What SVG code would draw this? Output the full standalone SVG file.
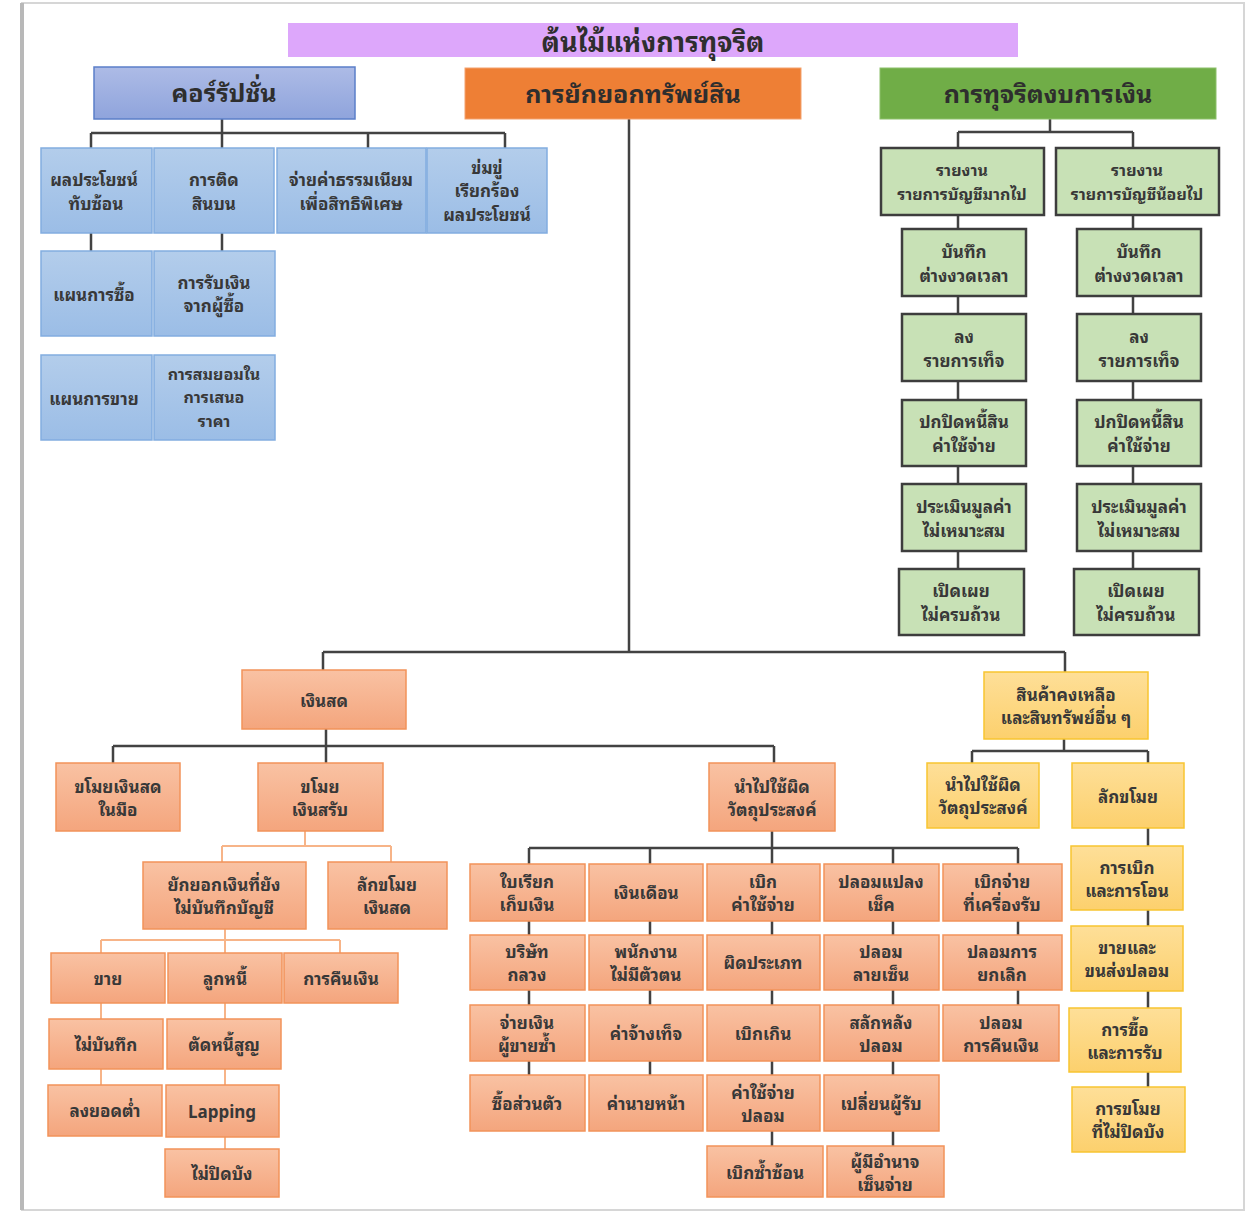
<svg xmlns="http://www.w3.org/2000/svg" width="1248" height="1213" viewBox="0 0 1248 1213">
<defs>
<linearGradient id="gBlue1" x1="0" y1="0" x2="0" y2="1"><stop offset="0" stop-color="#adbbe6"/><stop offset="1" stop-color="#8fa4dc"/></linearGradient>
<linearGradient id="gBlue2" x1="0" y1="0" x2="0" y2="1"><stop offset="0" stop-color="#b3cdeb"/><stop offset="1" stop-color="#9bbde6"/></linearGradient>
<linearGradient id="gSalmon" x1="0" y1="0" x2="0" y2="1"><stop offset="0" stop-color="#f9c2a3"/><stop offset="1" stop-color="#f4a57d"/></linearGradient>
<linearGradient id="gYellow" x1="0" y1="0" x2="0" y2="1"><stop offset="0" stop-color="#fedf98"/><stop offset="1" stop-color="#fcd06d"/></linearGradient>
</defs>
<style>
text{font-family:"Noto Sans Thai Looped","Noto Sans Thai","Noto Sans","DejaVu Sans",sans-serif;font-weight:bold;fill:#383838;text-anchor:middle;dominant-baseline:central;font-size:17px}
.t1{font-size:25px;fill:#2e2e2e}
.title{font-size:27px;fill:#2e2e2e}
.sm{font-size:16px}
.blue1{fill:url(#gBlue1);stroke:#5b7fc9;stroke-width:1.5}
.blue2{fill:url(#gBlue2);stroke:#82ade0;stroke-width:1.5}
.orange1{fill:#ee7f35;stroke:#f3a26e;stroke-width:1}
.green1{fill:#70ad47;stroke:#8cc06a;stroke-width:1}
.green2{fill:#c8e1b6;stroke:#3d3d3d;stroke-width:2.5}
.salmon{fill:url(#gSalmon);stroke:#f2935a;stroke-width:1.5}
.yellow{fill:url(#gYellow);stroke:#f8c531;stroke-width:1.5}
.ln{fill:none;stroke:#424242;stroke-width:2.5}
.lo{fill:none;stroke:#f7b488;stroke-width:2}
</style>
<rect x="0" y="0" width="1248" height="1213" fill="#ffffff"/>
<rect x="22" y="3" width="1222" height="1207" fill="#ffffff" stroke="#d6d6d6" stroke-width="2"/>
<line x1="22" y1="3" x2="22" y2="1210" stroke="#b8b8b8" stroke-width="4"/>

<g id="connectors">
<path class="ln" d="M222,119 V148 M91,133 H505 M91,133 V148 M368,133 V148 M505,133 V148 M91,233 V251 M222,233 V251"/>
<path class="ln" d="M1050,119 V132 M958,132 H1133 M958,132 V148 M1133,132 V148 M958,215 V569 M1133,215 V569"/>
<path class="ln" d="M629,119 V652 M323,652 H1065 M323,652 V670 M1065,652 V672"/>
<path class="ln" d="M326,729 V763 M113,746 H774 M113,746 V763 M774,746 V763"/>
<path class="lo" d="M305,831 V846 M222,846 H391 M222,846 V862 M391,846 V862 M225,929 V940 M101,940 H340 M101,940 V953 M225,940 V953 M340,940 V953 M101,1003 V1085 M225,1003 V1149"/>
<path class="ln" d="M772,831 V1146 M529,848 H1018 M529,848 V1075 M650,848 V1075 M893,848 V1146 M1018,848 V1005"/>
<path class="ln" d="M1064,739 V751 M972,751 H1148 M972,751 V763 M1148,751 V1087"/>
</g>

<g id="title"><rect x="288" y="23" width="730" height="34" fill="#dda7fb"/><text class="title" x="653" y="39">ต้นไม้แห่งการทุจริต</text></g>

<g id="corruption"><rect class="blue1" x="94" y="67" width="261" height="52"/><text class="t1" x="224" y="91">คอร์รัปชั่น</text></g>
<g id="asset-misappropriation"><rect class="orange1" x="465" y="68" width="336" height="51"/><text class="t1" x="633" y="92">การยักยอกทรัพย์สิน</text></g>
<g id="financial-statement-fraud"><rect class="green1" x="880" y="68" width="336" height="51"/><text class="t1" x="1048" y="92">การทุจริตงบการเงิน</text></g>

<g id="c-conflict"><rect class="blue2" x="41" y="148" width="111" height="85"/><text><tspan x="94" y="178">ผลประโยชน์</tspan><tspan x="96" y="202">ทับซ้อน</tspan></text></g>
<g id="c-bribery"><rect class="blue2" x="154" y="148" width="120" height="85"/><text><tspan x="214" y="178">การติด</tspan><tspan x="214" y="202">สินบน</tspan></text></g>
<g id="c-gratuities"><rect class="blue2" x="277" y="148" width="149" height="85"/><text><tspan x="351" y="178">จ่ายค่าธรรมเนียม</tspan><tspan x="351" y="202">เพื่อสิทธิพิเศษ</tspan></text></g>
<g id="c-extortion"><rect class="blue2" x="427" y="148" width="120" height="85"/><text><tspan x="487" y="166">ข่มขู่</tspan><tspan x="487" y="189">เรียกร้อง</tspan><tspan x="487" y="213">ผลประโยชน์</tspan></text></g>
<g id="c-purchasing"><rect class="blue2" x="41" y="251" width="111" height="85"/><text x="94" y="293">แผนการซื้อ</text></g>
<g id="c-invoice-kickbacks"><rect class="blue2" x="154" y="251" width="121" height="85"/><text><tspan x="214" y="281">การรับเงิน</tspan><tspan x="214" y="304">จากผู้ซื้อ</tspan></text></g>
<g id="c-sales"><rect class="blue2" x="41" y="355" width="111" height="85"/><text x="94" y="397">แผนการขาย</text></g>
<g id="c-bid-rigging"><rect class="blue2" x="154" y="355" width="121" height="85"/><text class="sm"><tspan x="214" y="373">การสมยอมใน</tspan><tspan x="214" y="396">การเสนอ</tspan><tspan x="214" y="420">ราคา</tspan></text></g>

<g id="f-over"><rect class="green2" x="881" y="148" width="163" height="67"/><text class="sm"><tspan x="962" y="169">รายงาน</tspan><tspan x="962" y="193">รายการบัญชีมากไป</tspan></text></g>
<g id="f-under"><rect class="green2" x="1056" y="148" width="163" height="67"/><text class="sm"><tspan x="1137" y="169">รายงาน</tspan><tspan x="1137" y="193">รายการบัญชีน้อยไป</tspan></text></g>
<g id="f-timing-a"><rect class="green2" x="902" y="229" width="124" height="67"/><text><tspan x="964" y="250">บันทึก</tspan><tspan x="964" y="274">ต่างงวดเวลา</tspan></text></g>
<g id="f-timing-b"><rect class="green2" x="1077" y="229" width="124" height="67"/><text><tspan x="1139" y="250">บันทึก</tspan><tspan x="1139" y="274">ต่างงวดเวลา</tspan></text></g>
<g id="f-fictitious-a"><rect class="green2" x="902" y="314" width="124" height="67"/><text><tspan x="964" y="335">ลง</tspan><tspan x="964" y="359">รายการเท็จ</tspan></text></g>
<g id="f-fictitious-b"><rect class="green2" x="1077" y="314" width="124" height="67"/><text><tspan x="1139" y="335">ลง</tspan><tspan x="1139" y="359">รายการเท็จ</tspan></text></g>
<g id="f-concealed-a"><rect class="green2" x="902" y="400" width="124" height="66"/><text><tspan x="964" y="420">ปกปิดหนี้สิน</tspan><tspan x="964" y="444">ค่าใช้จ่าย</tspan></text></g>
<g id="f-concealed-b"><rect class="green2" x="1077" y="400" width="124" height="66"/><text><tspan x="1139" y="420">ปกปิดหนี้สิน</tspan><tspan x="1139" y="444">ค่าใช้จ่าย</tspan></text></g>
<g id="f-valuation-a"><rect class="green2" x="902" y="484" width="124" height="67"/><text><tspan x="964" y="505">ประเมินมูลค่า</tspan><tspan x="964" y="529">ไม่เหมาะสม</tspan></text></g>
<g id="f-valuation-b"><rect class="green2" x="1077" y="484" width="124" height="67"/><text><tspan x="1139" y="505">ประเมินมูลค่า</tspan><tspan x="1139" y="529">ไม่เหมาะสม</tspan></text></g>
<g id="f-disclosure-a"><rect class="green2" x="899" y="569" width="125" height="66"/><text><tspan x="961" y="589">เปิดเผย</tspan><tspan x="961" y="613">ไม่ครบถ้วน</tspan></text></g>
<g id="f-disclosure-b"><rect class="green2" x="1074" y="569" width="125" height="66"/><text><tspan x="1136" y="589">เปิดเผย</tspan><tspan x="1136" y="613">ไม่ครบถ้วน</tspan></text></g>

<g id="a-cash"><rect class="salmon" x="242" y="670" width="164" height="59"/><text x="324" y="699">เงินสด</text></g>
<g id="a-cash-on-hand"><rect class="salmon" x="56" y="763" width="124" height="68"/><text><tspan x="118" y="785">ขโมยเงินสด</tspan><tspan x="118" y="808">ในมือ</tspan></text></g>
<g id="a-cash-receipts"><rect class="salmon" x="258" y="763" width="125" height="68"/><text><tspan x="320" y="785">ขโมย</tspan><tspan x="320" y="808">เงินสรับ</tspan></text></g>
<g id="a-fraudulent-disbursements"><rect class="salmon" x="709" y="763" width="126" height="68"/><text><tspan x="772" y="785">นำไปใช้ผิด</tspan><tspan x="772" y="808">วัตถุประสงค์</tspan></text></g>
<g id="a-skimming"><rect class="salmon" x="143" y="862" width="163" height="67"/><text><tspan x="224" y="883">ยักยอกเงินที่ยัง</tspan><tspan x="224" y="906">ไม่บันทึกบัญชี</tspan></text></g>
<g id="a-larceny"><rect class="salmon" x="328" y="862" width="119" height="67"/><text><tspan x="387" y="883">ลักขโมย</tspan><tspan x="387" y="906">เงินสด</tspan></text></g>
<g id="a-sales"><rect class="salmon" x="51" y="953" width="114" height="50"/><text x="108" y="977">ขาย</text></g>
<g id="a-receivables"><rect class="salmon" x="168" y="953" width="114" height="50"/><text x="225" y="977">ลูกหนี้</text></g>
<g id="a-refunds"><rect class="salmon" x="284" y="953" width="114" height="50"/><text x="341" y="977">การคืนเงิน</text></g>
<g id="a-unrecorded"><rect class="salmon" x="49" y="1019" width="114" height="50"/><text x="106" y="1043">ไม่บันทึก</text></g>
<g id="a-writeoff"><rect class="salmon" x="167" y="1019" width="114" height="50"/><text x="224" y="1043">ตัดหนี้สูญ</text></g>
<g id="a-understated"><rect class="salmon" x="48" y="1085" width="114" height="51"/><text x="105" y="1109">ลงยอดต่ำ</text></g>
<g id="a-lapping"><rect class="salmon" x="166" y="1085" width="113" height="52"/><text x="222" y="1110">Lapping</text></g>
<g id="a-unconcealed"><rect class="salmon" x="165" y="1149" width="114" height="48"/><text x="222" y="1172">ไม่ปิดบัง</text></g>

<g id="d-billing"><rect class="salmon" x="470" y="864" width="115" height="57"/><text><tspan x="527" y="880">ใบเรียก</tspan><tspan x="527" y="903">เก็บเงิน</tspan></text></g>
<g id="d-payroll"><rect class="salmon" x="589" y="864" width="114" height="57"/><text x="646" y="891">เงินเดือน</text></g>
<g id="d-expense"><rect class="salmon" x="707" y="864" width="113" height="57"/><text><tspan x="763" y="880">เบิก</tspan><tspan x="763" y="903">ค่าใช้จ่าย</tspan></text></g>
<g id="d-check"><rect class="salmon" x="824" y="864" width="115" height="57"/><text><tspan x="881" y="880">ปลอมแปลง</tspan><tspan x="881" y="903">เช็ค</tspan></text></g>
<g id="d-register"><rect class="salmon" x="943" y="864" width="119" height="57"/><text><tspan x="1002" y="880">เบิกจ่าย</tspan><tspan x="1002" y="903">ที่เครื่องรับ</tspan></text></g>
<g id="d-shell"><rect class="salmon" x="470" y="935" width="115" height="55"/><text><tspan x="527" y="950">บริษัท</tspan><tspan x="527" y="973">กลวง</tspan></text></g>
<g id="d-ghost"><rect class="salmon" x="589" y="935" width="114" height="55"/><text><tspan x="646" y="950">พนักงาน</tspan><tspan x="646" y="973">ไม่มีตัวตน</tspan></text></g>
<g id="d-mischaracterized"><rect class="salmon" x="707" y="935" width="113" height="55"/><text x="763" y="961">ผิดประเภท</text></g>
<g id="d-forged-maker"><rect class="salmon" x="824" y="935" width="115" height="55"/><text><tspan x="881" y="950">ปลอม</tspan><tspan x="881" y="973">ลายเซ็น</tspan></text></g>
<g id="d-false-voids"><rect class="salmon" x="943" y="935" width="119" height="55"/><text><tspan x="1002" y="950">ปลอมการ</tspan><tspan x="1002" y="973">ยกเลิก</tspan></text></g>
<g id="d-nonaccomplice"><rect class="salmon" x="470" y="1005" width="115" height="56"/><text><tspan x="527" y="1021">จ่ายเงิน</tspan><tspan x="527" y="1044">ผู้ขายซ้ำ</tspan></text></g>
<g id="d-falsified-wages"><rect class="salmon" x="589" y="1005" width="114" height="56"/><text x="646" y="1032">ค่าจ้างเท็จ</text></g>
<g id="d-overstated"><rect class="salmon" x="707" y="1005" width="113" height="56"/><text x="763" y="1032">เบิกเกิน</text></g>
<g id="d-forged-endorsement"><rect class="salmon" x="824" y="1005" width="115" height="56"/><text><tspan x="881" y="1021">สลักหลัง</tspan><tspan x="881" y="1044">ปลอม</tspan></text></g>
<g id="d-false-refunds"><rect class="salmon" x="943" y="1005" width="116" height="56"/><text><tspan x="1001" y="1021">ปลอม</tspan><tspan x="1001" y="1044">การคืนเงิน</tspan></text></g>
<g id="d-personal"><rect class="salmon" x="470" y="1075" width="115" height="56"/><text x="527" y="1102">ซื้อส่วนตัว</text></g>
<g id="d-commission"><rect class="salmon" x="589" y="1075" width="114" height="56"/><text x="646" y="1102">ค่านายหน้า</text></g>
<g id="d-fictitious-expense"><rect class="salmon" x="707" y="1075" width="113" height="56"/><text><tspan x="763" y="1091">ค่าใช้จ่าย</tspan><tspan x="763" y="1114">ปลอม</tspan></text></g>
<g id="d-altered-payee"><rect class="salmon" x="824" y="1075" width="115" height="56"/><text x="881" y="1102">เปลี่ยนผู้รับ</text></g>
<g id="d-multiple"><rect class="salmon" x="707" y="1146" width="116" height="51"/><text x="765" y="1171">เบิกซ้ำซ้อน</text></g>
<g id="d-authorized-maker"><rect class="salmon" x="827" y="1146" width="117" height="51"/><text><tspan x="885" y="1160">ผู้มีอำนาจ</tspan><tspan x="885" y="1183">เซ็นจ่าย</tspan></text></g>

<g id="i-inventory"><rect class="yellow" x="984" y="672" width="164" height="67"/><text><tspan x="1066" y="693">สินค้าคงเหลือ</tspan><tspan x="1066" y="716">และสินทรัพย์อื่น ๆ</tspan></text></g>
<g id="i-misuse"><rect class="yellow" x="927" y="763" width="112" height="65"/><text><tspan x="983" y="783">นำไปใช้ผิด</tspan><tspan x="983" y="806">วัตถุประสงค์</tspan></text></g>
<g id="i-larceny"><rect class="yellow" x="1072" y="763" width="112" height="65"/><text x="1128" y="795">ลักขโมย</text></g>
<g id="i-requisitions"><rect class="yellow" x="1071" y="846" width="112" height="64"/><text><tspan x="1127" y="866">การเบิก</tspan><tspan x="1127" y="889">และการโอน</tspan></text></g>
<g id="i-false-sales"><rect class="yellow" x="1071" y="926" width="112" height="65"/><text><tspan x="1127" y="946">ขายและ</tspan><tspan x="1127" y="969">ขนส่งปลอม</tspan></text></g>
<g id="i-purchasing"><rect class="yellow" x="1069" y="1008" width="112" height="64"/><text><tspan x="1125" y="1028">การซื้อ</tspan><tspan x="1125" y="1051">และการรับ</tspan></text></g>
<g id="i-unconcealed"><rect class="yellow" x="1072" y="1087" width="113" height="65"/><text><tspan x="1128" y="1107">การขโมย</tspan><tspan x="1128" y="1130">ที่ไม่ปิดบัง</tspan></text></g>
</svg>
